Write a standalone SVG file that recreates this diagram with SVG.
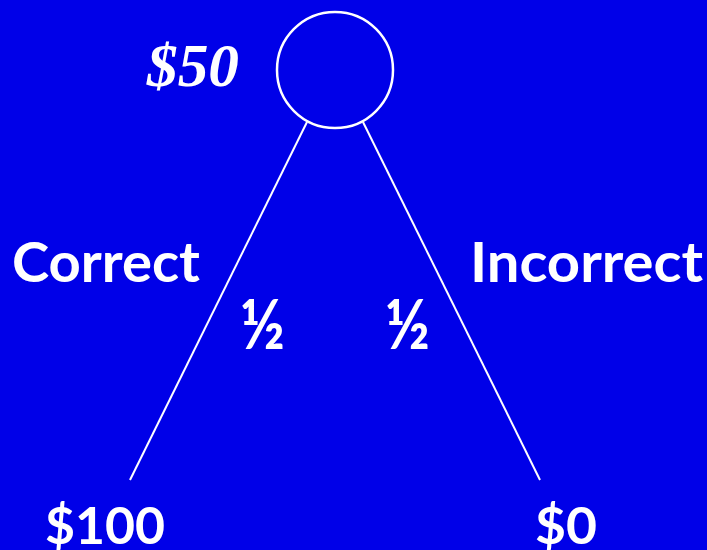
<svg xmlns="http://www.w3.org/2000/svg" width="707" height="550" viewBox="0 0 707 550">
<style>
.lbl{font-family:"Lato","Open Sans","DejaVu Sans",sans-serif;font-weight:bold;fill:#fff}
.val{font-family:"Liberation Serif","Times New Roman",serif;font-weight:bold;font-style:italic;fill:#fff}
.edge{stroke:#fff;stroke-width:2;fill:none}
</style>
<rect width="707" height="550" fill="#0000e8"/>
<g id="root">
<circle cx="335" cy="70" r="58" fill="none" stroke="#fff" stroke-width="2.5"/>
<text class="val" x="147" y="86" font-size="61" textLength="92" lengthAdjust="spacingAndGlyphs">$50</text>
</g>
<g id="connectors">
<line class="edge" x1="307" y1="122" x2="130" y2="480"/>
<line class="edge" x1="363" y1="122" x2="540" y2="480"/>
</g>
<g id="correct-label">
<text class="lbl" x="12" y="282" font-size="56" textLength="188" lengthAdjust="spacingAndGlyphs">Correct</text>
<text class="lbl" x="240" y="349" font-size="68" textLength="45" lengthAdjust="spacingAndGlyphs">½</text>
</g>
<g id="incorrect-label">
<text class="lbl" x="470" y="282" font-size="56" textLength="233" lengthAdjust="spacingAndGlyphs">Incorrect</text>
<text class="lbl" x="385" y="349" font-size="68" textLength="45" lengthAdjust="spacingAndGlyphs">½</text>
</g>
<g id="leaf-100">
<text class="lbl" x="45" y="544" font-size="52" textLength="120" lengthAdjust="spacingAndGlyphs">$100</text>
</g>
<g id="leaf-0">
<text class="lbl" x="535" y="544" font-size="52" textLength="62" lengthAdjust="spacingAndGlyphs">$0</text>
</g>
</svg>
